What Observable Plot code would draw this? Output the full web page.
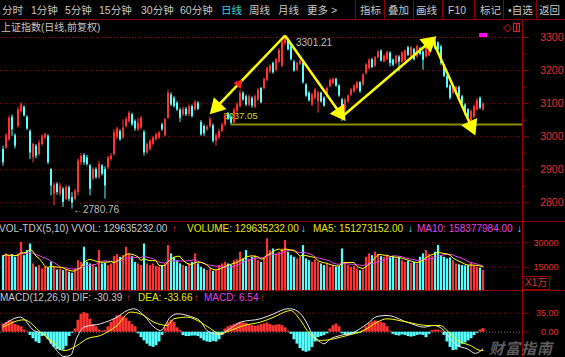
<!DOCTYPE html>
<html><head><meta charset="utf-8">
<script src="https://cdn.jsdelivr.net/npm/d3@7"></script>
<script src="https://cdn.jsdelivr.net/npm/@observablehq/plot@0.6"></script>
<style>
html,body{margin:0;padding:0;background:#000;}
#root{position:relative;width:565px;height:357px;overflow:hidden;background:#000;font-family:"Liberation Sans",Arial,sans-serif;}
.t{position:absolute;white-space:nowrap;line-height:1;}
.hl{position:absolute;left:0;width:565px;height:1px;background:#8c0000;}
.vl{position:absolute;width:1px;background:#8c0000;}
</style></head><body><div id="root"></div>
<script>
// ---------------- DATA ----------------
const open = [2961,2966,2991,3059,3003,3031,3076,3089,3059,3016,
2936,2971,2946,2976,2996,3001,2901,2826,2856,2826,
2841,2811,2846,2816,2811,2831,2921,2943,2936,2911,
2871,2901,2876,2911,2901,2906,2931,2946,2996,3016,
2996,3031,3046,3066,3046,3021,3026,3013,2951,2961,
2976,2991,2996,3036,3003,3056,3126,3116,3101,3081,
3066,3083,3066,3091,3081,3101,3043,3031,3021,3029,
3033,2986,2996,3016,3036,3069,3059,3041,3076,3091,
3131,3121,3096,3116,3089,3111,3146,3146,3171,3196,
3221,3201,3226,3213,3281,3293,3271,3226,3201,3219,
3221,3156,3131,3096,3116,3106,3131,3116,3121,3151,
3161,3173,3153,3111,3081,3106,3126,3136,3146,3163,
3156,3191,3206,3233,3213,3239,3259,3226,3233,3253,
3231,3221,3241,3226,3231,3269,3243,3263,3241,3266,
3256,3241,3246,3276,3289,3283,3271,3213,3181,3153,
3131,3129,3149,3121,3096,3081,3046,3059,3081,3116,3081];
const high = [2971,3009,3063,3066,3009,3089,3103,3093,3063,3021,
2981,2976,2989,3006,3011,3006,2903,2861,2861,2859,
2846,2853,2851,2831,2841,2933,2949,2949,2943,2916,
2906,2906,2926,2916,2909,2941,2949,3021,3029,3021,
3051,3059,3076,3071,3051,3056,3061,3019,2981,2991,
3001,3011,3016,3041,3056,3141,3133,3121,3106,3086,
3089,3089,3096,3096,3109,3106,3049,3036,3033,3059,
3038,3009,3023,3041,3069,3073,3066,3086,3103,3141,
3136,3126,3126,3121,3126,3146,3149,3178,3211,3218,
3226,3237,3266,3291,3301.21,3297,3276,3231,3226,3233,
3226,3161,3136,3131,3146,3137,3135,3121,3151,3175,
3178,3177,3157,3116,3116,3127,3146,3157,3167,3167,
3191,3221,3236,3237,3243,3261,3263,3247,3259,3257,
3235,3247,3245,3257,3263,3273,3273,3267,3277,3270,
3260,3285,3281,3297,3293,3287,3276,3217,3185,3157,
3157,3153,3153,3125,3100,3085,3081,3096,3116,3121,3103];
const low = [2911,2961,2986,3001,2963,3026,3071,3059,3019,2931,
2921,2933,2941,2971,2991,2916,2821,2791,2823,2819,
2786,2806,2803,2780.76,2806,2821,2913,2913,2911,2821,
2866,2871,2871,2881,2811,2901,2926,2941,2991,2986,
2991,3026,3041,3031,3016,3016,3021,2941,2946,2956,
2971,2986,2991,3016,2999,3053,3091,3086,3076,3043,
3061,3061,3061,3056,3076,3079,3001,3001,3016,3026,
2981,2971,2991,3011,3031,3049,3037.05,3040,3071,3086,
3106,3091,3091,3086,3085,3106,3099,3141,3166,3191,
3189,3196,3221,3209,3276,3259,3229,3195,3197,3215,
3159,3119,3105,3091,3111,3071,3101,3089,3116,3147,
3157,3149,3119,3046,3076,3101,3121,3131,3141,3131,
3151,3186,3201,3205,3209,3235,3225,3223,3229,3211,
3211,3217,3196,3222,3227,3242,3239,3229,3237,3245,
3201,3237,3242,3272,3262,3259,3216,3179,3145,3111,
3127,3125,3117,3095,3065,3055,3019,3055,3077,3081,3077];
const close = [2921,3003,3056,3021,2971,3081,3096,3063,3023,2951,
2976,2941,2981,3001,3006,2921,2851,2853,2831,2851,
2801,2846,2811,2799,2836,2926,2941,2921,2916,2841,
2901,2876,2916,2886,2851,2936,2941,3011,3023,2991,
3026,3051,3071,3036,3023,3041,3056,2951,2976,2986,
2996,3006,3011,3021,3051,3131,3096,3091,3081,3056,
3083,3066,3091,3061,3103,3083,3006,3009,3029,3051,
2986,3003,3016,3036,3063,3053,3041,3081,3096,3131,
3111,3096,3121,3093,3121,3141,3103,3173,3206,3213,
3193,3233,3261,3286,3296,3263,3233,3199,3221,3229,
3163,3123,3109,3126,3141,3133,3106,3093,3146,3171,
3173,3153,3123,3076,3111,3123,3141,3153,3163,3136,
3186,3216,3231,3209,3239,3256,3229,3243,3255,3221,
3216,3243,3226,3253,3259,3246,3269,3233,3273,3249,
3231,3281,3276,3289,3266,3263,3221,3183,3149,3116,
3153,3149,3121,3099,3069,3059,3076,3091,3109,3086,3099];
// volume in units of 1万
const volume = [22100,23200,21500,22800,21100,23200,30300,22100,25200,29300,
17000,15000,16000,13900,15000,14500,18000,15000,13300,13900,
12900,13300,11900,11300,13900,19000,18000,27300,18000,17000,
16000,15000,25200,17000,17400,16000,17000,21500,22800,21100,
22100,27300,22800,21500,18000,17000,16000,29300,17000,16000,
17000,15400,15000,16000,17000,28300,23200,21100,19000,17000,
16000,15400,17000,18000,23200,17000,15000,13900,12900,13900,
12500,13300,16000,17000,18000,17000,16000,19000,19500,24200,
20100,25200,19500,21100,22100,19000,18000,21100,32400,25200,
26200,23200,24200,26200,31400,24200,22100,21100,20100,21100,
28300,20100,19000,18000,19500,18000,17000,16000,17000,15000,
16000,15000,15400,26200,17000,16000,15000,15400,13900,12900,
13300,21100,23200,22100,24200,22800,21500,21100,22100,20700,
21500,20100,21100,19000,18000,18600,17400,18000,17000,21100,
23200,25200,22800,21500,24200,28300,22100,21100,20100,20700,
19000,17000,16500,16000,15800,16000,17500,16000,15000,14500,12963];
const macdHist = [15,18,21,20,14,12,10,4,1,-6,
-12,-18,-21,-8,-6,-14,-22,-28,-32,-34,
-33,-26,-8,-2,6,22,33,36,34,24,
14,10,4,2,3,10,18,24,30,31,
28,26,20,14,10,-3,-10,-16,-22,-26,
-28,-25,-18,-6,8,18,22,18,8,3,
-6,-8,-8,-7,-7,-8,-12,-16,-18,-19,
-17,-18,-14,-6,6,10,12,14,16,18,
17,16,14,12,11,12,14,15,17,14,
12,13,14,12,8,2,-4,-14,-22,-30,
-35,-37,-35,-28,-18,-10,-8,-6,-3,6,
12,15,10,-3,-5,-6,-5,-4,-3,-2,
4,10,16,19,21,20,18,16,10,2,
-4,-6,-7,-5,-6,-8,-9,-8,-6,-5,
-6,-10,-4,3,4,4,2,-6,-18,-28,
-34,-33,-28,-22,-20,-16,-12,-6,-2,4,6.54];
const difIdx = [0,5.8,10.3,13.6,17,20.3,22.5,24.7,27,32.5,38,41.4,43.6,47,50.3,52.5,55.8,58,62.5,65.8,68,71.4,74.7,79.2,85.8,90.3,94.7,95.8,99.2,101.4,103.6,105.8,107,109.2,112.5,117,121.4,124.7,128,134.7,140.3,143.6,147,149.2,151.4,154.7,157.5,160];
const difVal = [12.4,27.8,3.2,-2.9,-27.5,-44.7,-42.9,-9.1,9.3,15.5,27.8,40,43.1,30.8,9.3,3.2,27.8,33.9,29,20.4,3.2,-4.2,3.2,18.5,24.7,33.9,43.1,43.1,33.9,15.5,-9.1,-18.3,-21.4,-12.2,-6,0.1,15.5,29,30.8,18.5,9.3,12.4,3.2,-12.2,-24.4,-30.6,-39,-30.39];
const deaIdx = [0,7,12.5,17,20.3,24.7,28,32.5,38,42.5,45.8,50.3,54.7,57,61.4,65.8,69.2,72.5,75.8,80.3,85.8,90.3,94.7,95.8,99.2,101.4,103.6,105.8,110.3,114.7,120.3,124.7,128,134.7,141.4,145.8,148,151.4,155.8,159.2,160];
const deaVal = [9.3,22.8,0.1,-20,-34,-24.4,-12.2,-6,12.4,37,33.9,18.5,12.4,24.7,27.8,18.5,6.3,-3,3.2,12.4,18.5,27.8,38.8,40,21.6,3.2,-9.1,-15.2,-12.2,-6,3.2,18.5,24.7,18.5,12.4,12.4,3.2,-15.2,-24.4,-33.6,-33.66];

const priceTicks = [2800, 2900, 3000, 3100, 3200, 3300];
const priceMinor = [2850, 2950, 3050, 3150, 3250];
const volTicks = [15000, 30000];
const macdTicks = [0, 35];

// drawn annotations (day index, price)
const drawnArrows = [
  {i1: 94, p1: 3306, i2: 70.2, p2: 3080},
  {i1: 94, p1: 3306, i2: 113.1, p2: 3061},
  {i1: 113.1, p1: 3061, i2: 143.1, p2: 3293},
  {i1: 143.1, p1: 3293, i2: 156.7, p2: 3019}
];
const supportLevel = {i: 76, p: 3037.05, label: "3037.05", labelI: 73.4};
const redMarker = [{i: 78.6, p: 3160}];

const menuItems = ["分时","1分钟","5分钟","15分钟","30分钟","60分钟","日线","周线","月线","更多 >"];
const buttons = ["指标","叠加","画线","F10","标记","•自选","返回"];

// ---------------- LAYOUT ----------------
const RED = "#ff3232", CYAN = "#54ffff", YEL = "#e6e600", MAG = "#e640e6";
const GRID = "#990000", AXTXT = "#e03030", AXLINE = "#9a0000";
const W = 565, AXIS_X = 522.5;
const X_DOMAIN = [0, open.length - 1], X_RANGE = [2.5, 482.5];
const Y_DOMAIN = [2800, 3300], Y_RANGE = [182.3, 17];
const pxPerI = (X_RANGE[1] - X_RANGE[0]) / (X_DOMAIN[1] - X_DOMAIN[0]);
const pxPerP = (Y_RANGE[0] - Y_RANGE[1]) / (Y_DOMAIN[1] - Y_DOMAIN[0]);
const xEdge = X_DOMAIN[1] + (AXIS_X - X_RANGE[1]) / pxPerI;

const candles = open.map((o, i) => ({i, o, h: high[i], l: low[i], c: close[i], v: volume[i], m: macdHist[i]}));
const col = d => d.c >= d.o ? RED : CYAN;
const hi = candles.reduce((a, b) => b.h > a.h ? b : a);
const lo = candles.reduce((a, b) => b.l < a.l ? b : a);
const difPts = difIdx.map((i, k) => ({i, v: difVal[k]}));
const deaPts = deaIdx.map((i, k) => ({i, v: deaVal[k]}));
// filled arrowheads: placed just behind each tip, rotated along the arrow direction (screen space)
const heads = drawnArrows.map(a => {
  const sx = (a.i2 - a.i1) * pxPerI, sy = -(a.p2 - a.p1) * pxPerP;
  const L = Math.hypot(sx, sy), ux = sx / L, uy = sy / L;
  const back = 4.5;
  return {i: a.i2 - ux * back / pxPerI, p: a.p2 + uy * back / pxPerP, rot: Math.atan2(ux, -uy) * 180 / Math.PI};
});

function base(h, y) {
  return {
    width: W, height: h, marginLeft: 0, marginRight: W - AXIS_X, marginTop: 0, marginBottom: 0,
    style: {background: "transparent", fontFamily: "Liberation Sans, Arial, sans-serif", overflow: "visible"},
    x: {domain: X_DOMAIN, range: X_RANGE, axis: null},
    y: Object.assign({label: null}, y)
  };
}
function axisMarks(major, minor, fmt, dxLabel, fs) {
  const m = [
    Plot.axisY(major, {anchor: "right", tickSize: 5, tickFormat: () => "", color: AXLINE, label: null}),
    Plot.text(major, {y: d => d, text: fmt, frameAnchor: "right", textAnchor: "end", dx: dxLabel, fill: AXTXT, fontSize: fs})
  ];
  if (minor) m.push(Plot.axisY(minor, {anchor: "right", tickSize: 3, tickFormat: () => "", color: AXLINE, label: null}));
  return m;
}

const mainPlot = Plot.plot(Object.assign(base(200, {domain: Y_DOMAIN, range: Y_RANGE}), {
  marks: [
    Plot.ruleY(priceTicks, {stroke: GRID, strokeDasharray: "1,2"}),
    Plot.ruleY([supportLevel], {y: "p", x1: "i", x2: () => xEdge, stroke: "#8c8c00", strokeWidth: 2}),
    Plot.text([supportLevel], {x: "labelI", y: "p", text: "label", dy: -8, textAnchor: "start", fill: "#d8d800", fontSize: 9.5}),
    Plot.ruleX(candles, {x: "i", y1: "l", y2: "h", stroke: col}),
    Plot.ruleX(candles, {x: "i", y1: "o", y2: "c", stroke: col, strokeWidth: 2}),
    Plot.text([hi], {x: "i", y: "h", text: d => "←" + d.h.toFixed(2), textAnchor: "start", dx: 1, dy: 6, fill: "#bdbdbd", fontSize: 10}),
    Plot.text([lo], {x: "i", y: "l", text: d => "←" + d.l.toFixed(2), textAnchor: "start", dx: 1, dy: 1, fill: "#bdbdbd", fontSize: 10}),
    Plot.link(drawnArrows, {x1: "i1", y1: "p1", x2: "i2", y2: "p2", stroke: "#ffff00", strokeWidth: 2.5}),
    Plot.dot(heads, {x: "i", y: "p", symbol: "triangle", r: 6.5, fill: "#ffff00", stroke: "none", rotate: "rot"}),
    Plot.dot(redMarker, {x: "i", y: "p", symbol: "triangle", r: 3.5, fill: "#ff2020", rotate: 40}),
    ...axisMarks(priceTicks, priceMinor, d => String(d), 40.5, 10.5)
  ]
}));

const volPlot = Plot.plot(Object.assign(base(69, {domain: [0, 30000], range: [69.1, 20.3]}), {
  marks: [
    Plot.ruleY(volTicks, {stroke: GRID, strokeDasharray: "1,2"}),
    Plot.ruleX(candles, {x: "i", y1: 0, y2: "v", stroke: col, strokeWidth: 2.2}),
    Plot.lineY(candles, Plot.windowY({k: 10, anchor: "end"}, {x: "i", y: "v", stroke: MAG, strokeWidth: 1})),
    Plot.lineY(candles, Plot.windowY({k: 5, anchor: "end"}, {x: "i", y: "v", stroke: "#ffff00", strokeWidth: 1})),
    ...axisMarks(volTicks, null, d => String(d), 35.5, 9)
  ]
}));

const macdPlot = Plot.plot(Object.assign(base(67, {domain: [0, 35], range: [41.7, 22.7]}), {
  marks: [
    Plot.ruleY([35], {stroke: GRID, strokeDasharray: "1,2"}),
    Plot.ruleY([0], {stroke: "#777", strokeDasharray: "1,2"}),
    Plot.ruleX(candles, {x: "i", y1: 0, y2: "m", stroke: d => d.m >= 0 ? RED : CYAN, strokeWidth: 3}),
    Plot.line(difPts, {x: "i", y: "v", stroke: "#e8e8e8", strokeWidth: 1, curve: "monotone-x"}),
    Plot.line(deaPts, {x: "i", y: "v", stroke: "#ffff00", strokeWidth: 1, curve: "monotone-x"}),
    ...axisMarks(macdTicks, null, d => d3.format(".2f")(d), 35.5, 9)
  ]
}));

// ---------------- ASSEMBLY ----------------
const root = document.getElementById("root");
function place(svg, top) {
  svg.style.position = "absolute"; svg.style.left = "0px"; svg.style.top = top + "px";
  root.appendChild(svg);
}
place(mainPlot, 20); place(volPlot, 222); place(macdPlot, 290);

function el(cls, css, text) {
  const e = document.createElement(text === undefined ? "div" : "span");
  e.className = cls; e.style.cssText = css;
  if (text !== undefined) e.textContent = text;
  root.appendChild(e); return e;
}
function txt(t, x, yc, size, color, extra) {
  return el("t", `left:${x}px;top:${yc - size / 2}px;font-size:${size}px;color:${color};${extra || ""}`, t);
}
const CN = 'font-family:"Liberation Sans","Noto Sans CJK SC",sans-serif;';

// toolbar
const menuX = [2, 31, 65, 99, 141, 180, 221, 249, 278, 307];
menuItems.forEach((t, k) => txt(t, menuX[k], 10, 10.5, t === "日线" ? "#2ed8d8" : "#c8c8c8", CN));
const buttonX = [360, 388, 416, 448, 480, 508, 539];
buttons.forEach((t, k) => txt(t, buttonX[k], 10, 10.5, "#c8c8c8", CN));
[355, 384, 413, 442, 474, 503, 536].forEach(x => el("vl", `left:${x}px;top:0;height:19px;`));
el("hl", "top:19px;");

// main header
txt("上证指数(日线,前复权)", 1, 28, 10, "#c8c8c8", CN);
txt("◇", 503, 27.5, 11, "#e02020");
el("vl", "left:513px;top:23px;height:9px;width:7px;background:transparent;border:1px solid #e02020;box-sizing:border-box;");
el("vl", "left:516px;top:23px;height:9px;background:#e02020;");
el("vl", "left:479px;top:33px;height:4px;width:8px;background:#ff00ff;");

// panel borders & axis line
el("hl", "top:221px;");
el("hl", "top:290px;");
el("vl", `left:522px;top:19px;height:338px;background:${AXLINE};`);

// volume header
const vh = [["VOL-TDX(5,10) VVOL: 129635232.00", -1, "#c8c8c8"], ["↑", 172, RED], ["VOLUME: 129635232.00", 187, YEL], ["↓", 301, CYAN],
  ["MA5: 151273152.00", 313, YEL], ["↓", 408, CYAN], ["MA10: 158377984.00", 417, MAG], ["↓", 517, CYAN]];
vh.forEach(([t, x, c]) => txt(t, x, 229, 10, c));
// macd header
const mh = [["MACD(12,26,9) DIF: -30.39", 0, "#c8c8c8"], ["↑", 126, RED], ["DEA: -33.66", 138, YEL], ["↑", 194, RED],
  ["MACD: 6.54", 204, MAG], ["↑", 260, RED]];
mh.forEach(([t, x, c]) => txt(t, x, 297.5, 10, c));

// unit box
el("vl", "left:522px;top:276px;height:14px;width:28px;background:transparent;border:1px solid #9a0000;box-sizing:border-box;");
txt("X1万", 525, 283, 10, AXTXT, CN);

// watermark
txt("财富指南", 489, 347.5, 15, "#5c5c5c", 'font-family:"Noto Sans CJK SC",sans-serif;font-weight:bold;font-style:italic;letter-spacing:1px;');
</script></body></html>
